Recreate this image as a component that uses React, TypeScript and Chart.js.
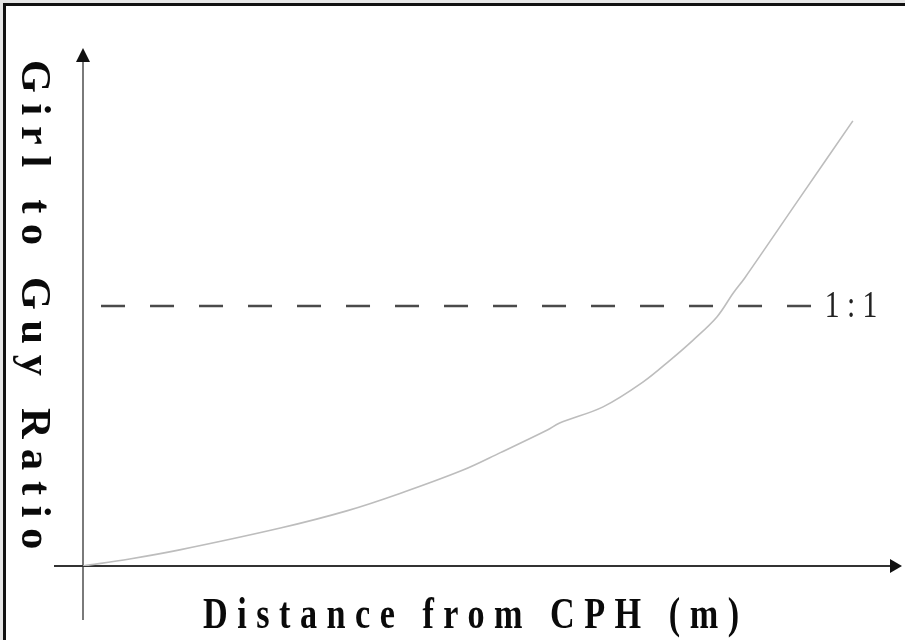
import React, { useEffect, useRef } from "react";
import { Chart, registerables } from "chart.js";

Chart.register(...registerables);

// Distance from CPH (m) and girl-to-guy ratio
const DISTANCE = [0, 57, 118, 241, 322, 387, 464, 509, 567, 582, 635, 684, 717, 745, 774, 794, 808, 875, 940];
const RATIO = [0, 0.027, 0.062, 0.146, 0.212, 0.279, 0.369, 0.435, 0.523, 0.55, 0.612, 0.708, 0.792, 0.869, 0.958, 1.05, 1.108, 1.415, 1.712];

// 1:1 parity line
const PARITY_X = [22, 891];
const PARITY_Y = [1, 1];
const PARITY_LABEL = "1:1";

const X_TITLE = "Distance from CPH (m)";
const Y_TITLE = "Girl to Guy Ratio";

const X_RANGE = [0, 1000];
const Y_RANGE = [0, 2];

const decorPlugin = {
  id: "decor",
  beforeDraw(chart: any) {
    const ctx = chart.ctx as CanvasRenderingContext2D;
    const w = chart.width;
    const h = chart.height;
    ctx.save();
    ctx.fillStyle = "#ffffff";
    ctx.fillRect(0, 0, w, h);
    ctx.fillStyle = "#e6e6e6";
    ctx.fillRect(0, 0, w, 3);
    ctx.fillRect(0, 0, 3, h);
    ctx.fillStyle = "#111111";
    ctx.fillRect(3, 3, w - 3, 3);
    ctx.fillRect(3, 3, 3, h - 3);

    const xs = chart.scales.x;
    const ys = chart.scales.y;
    const ox = xs.getPixelForValue(0);
    const oy = ys.getPixelForValue(0);
    const area = chart.chartArea;

    // y axis
    ctx.strokeStyle = "#7a7a7a";
    ctx.lineWidth = 2;
    ctx.beginPath();
    ctx.moveTo(ox, oy + 54);
    ctx.lineTo(ox, area.top + 12);
    ctx.stroke();
    ctx.fillStyle = "#111111";
    ctx.beginPath();
    ctx.moveTo(ox, area.top + 2);
    ctx.lineTo(ox - 7, area.top + 16);
    ctx.lineTo(ox + 7, area.top + 16);
    ctx.closePath();
    ctx.fill();

    // x axis
    ctx.strokeStyle = "#333333";
    ctx.lineWidth = 2;
    ctx.beginPath();
    ctx.moveTo(ox - 29, oy);
    ctx.lineTo(area.right - 10, oy);
    ctx.stroke();
    ctx.beginPath();
    ctx.moveTo(area.right, oy);
    ctx.lineTo(area.right - 12, oy - 7);
    ctx.lineTo(area.right - 12, oy + 7);
    ctx.closePath();
    ctx.fill();
    ctx.restore();
  },
  afterDraw(chart: any) {
    const ctx = chart.ctx as CanvasRenderingContext2D;
    const xs = chart.scales.x;
    const ys = chart.scales.y;
    const ox = xs.getPixelForValue(0);
    const oy = ys.getPixelForValue(0);
    ctx.save();
    ctx.fillStyle = "#0a0a0a";
    ctx.textBaseline = "alphabetic";
    ctx.textAlign = "left";

    // y title (rotated, reads top to bottom)
    ctx.save();
    ctx.translate(ox - 61, 60);
    ctx.rotate(Math.PI / 2);
    ctx.scale(1.03, 1.04);
    ctx.font = 'bold 41px "Liberation Serif", "DejaVu Serif", serif';
    (ctx as any).letterSpacing = "10.4px";
    ctx.fillText(Y_TITLE, 0, 0);
    ctx.restore();

    // x title
    ctx.save();
    ctx.translate(203, oy + 62);
    ctx.scale(0.76, 1);
    ctx.font = 'bold 45px "Liberation Serif", "DejaVu Serif", serif';
    (ctx as any).letterSpacing = "12.5px";
    ctx.fillText(X_TITLE, 0, 0);
    ctx.restore();

    // 1:1 label
    const py = ys.getPixelForValue(PARITY_Y[1]);
    const px = xs.getPixelForValue(PARITY_X[1]);
    ctx.save();
    ctx.fillStyle = "#222222";
    ctx.translate(px + 12, py + 11);
    ctx.scale(0.78, 1);
    ctx.font = '38px "Liberation Serif", "DejaVu Serif", serif';
    (ctx as any).letterSpacing = "9.4px";
    ctx.fillText(PARITY_LABEL, 0, 0);
    ctx.restore();

    ctx.restore();
  },
};

export default function App() {
  const ref = useRef<HTMLCanvasElement>(null);
  useEffect(() => {
    document.body.style.margin = "0";
    const canvas = ref.current;
    if (!canvas) return;
    const chart = new Chart(canvas, {
      type: "scatter",
      data: {
        datasets: [
          {
            label: "ratio",
            data: DISTANCE.map((d, i) => ({ x: d, y: RATIO[i] })),
            showLine: true,
            borderColor: "#bdbdbd",
            borderWidth: 1.6,
            pointRadius: 0,
            tension: 0.35,
            fill: false,
          },
          {
            label: "parity",
            data: PARITY_X.map((d, i) => ({ x: d, y: PARITY_Y[i] })),
            showLine: true,
            borderColor: "#4a4a4a",
            borderWidth: 2.6,
            borderDash: [24, 25],
            pointRadius: 0,
            fill: false,
          },
        ],
      },
      options: {
        animation: false,
        responsive: false,
        devicePixelRatio: 1,
        layout: { padding: { left: 83, right: 3, top: 46, bottom: 74 } },
        plugins: {
          legend: { display: false },
          tooltip: { enabled: false },
          title: { display: false },
        },
        scales: {
          x: { type: "linear", min: X_RANGE[0], max: X_RANGE[1], display: false },
          y: { type: "linear", min: Y_RANGE[0], max: Y_RANGE[1], display: false },
        },
      },
      plugins: [decorPlugin],
    });
    return () => chart.destroy();
  }, []);
  return (
    <div style={{ position: "fixed", left: 0, top: 0, width: 905, height: 640 }}>
      <canvas ref={ref} width={905} height={640} style={{ width: 905, height: 640, display: "block" }} />
    </div>
  );
}
